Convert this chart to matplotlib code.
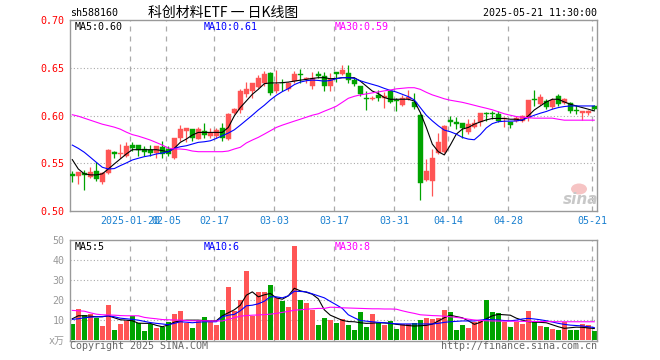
import matplotlib
matplotlib.use("Agg")
import matplotlib.pyplot as plt
from matplotlib.patches import Ellipse
import numpy as np

dates = ["2025-01-06","2025-01-07","2025-01-08","2025-01-09","2025-01-10","2025-01-13","2025-01-14","2025-01-15",
         "2025-01-16","2025-01-17","2025-01-20","2025-01-21","2025-01-22","2025-01-23","2025-01-24","2025-01-27",
         "2025-02-05","2025-02-06","2025-02-07","2025-02-10","2025-02-11","2025-02-12","2025-02-13","2025-02-14",
         "2025-02-17","2025-02-18","2025-02-19","2025-02-20","2025-02-21","2025-02-24","2025-02-25","2025-02-26",
         "2025-02-27","2025-02-28","2025-03-03","2025-03-04","2025-03-05","2025-03-06","2025-03-07","2025-03-10",
         "2025-03-11","2025-03-12","2025-03-13","2025-03-14","2025-03-17","2025-03-18","2025-03-19","2025-03-20",
         "2025-03-21","2025-03-24","2025-03-25","2025-03-26","2025-03-27","2025-03-28","2025-03-31","2025-04-01",
         "2025-04-02","2025-04-03","2025-04-07","2025-04-08","2025-04-09","2025-04-10","2025-04-11","2025-04-14",
         "2025-04-15","2025-04-16","2025-04-17","2025-04-18","2025-04-21","2025-04-22","2025-04-23","2025-04-24",
         "2025-04-25","2025-04-28","2025-04-29","2025-04-30","2025-05-06","2025-05-07","2025-05-08","2025-05-09",
         "2025-05-12","2025-05-13","2025-05-14","2025-05-15","2025-05-16","2025-05-19","2025-05-20","2025-05-21"]

opens = [0.539,0.537,0.5396,0.5354,0.5417,0.5308,0.5396,0.5621,0.5600,0.5573,0.569,0.569,0.5649,0.5642,0.5607,0.5667,
         0.5649,0.5552,0.576,0.584,0.5857,0.5753,0.5833,0.5788,0.5788,0.5865,0.5753,0.6031,0.6058,0.6222,0.6256,0.6302,
         0.6336,0.6441,0.6256,0.6344,0.6274,0.636,0.643,0.6378,0.6308,0.643,0.6412,0.6308,0.6458,0.643,0.6441,0.6371,
         0.6308,0.6188,0.6177,0.6215,0.618,0.6256,0.6163,0.6107,0.617,0.6142,0.6003,0.5329,0.5319,0.5607,0.5621,0.5948,
         0.593,0.5917,0.5823,0.5875,0.5927,0.6024,0.6024,0.6014,0.5961,0.5937,0.5941,0.5944,0.5969,0.617,0.6118,0.6152,
         0.6094,0.6202,0.6135,0.6128,0.6055,0.6024,0.6024,0.6097]
highs = [0.542,0.541,0.543,0.5458,0.551,0.541,0.5645,0.5628,0.570,0.5719,0.5719,0.5695,0.5683,0.569,0.568,0.5735,
         0.5683,0.5765,0.590,0.5871,0.5857,0.5875,0.592,0.5865,0.5865,0.592,0.6031,0.6083,0.6274,0.635,0.634,0.642,
         0.6465,0.6454,0.6472,0.6385,0.6346,0.6465,0.6482,0.6406,0.6454,0.6465,0.6454,0.6448,0.646,0.6534,0.6524,0.6396,
         0.631,0.6256,0.6204,0.6267,0.625,0.6263,0.6188,0.6211,0.6263,0.624,0.6014,0.5545,0.5649,0.5816,0.5899,0.599,
         0.598,0.5925,0.5961,0.5961,0.6028,0.6038,0.6048,0.6045,0.598,0.5937,0.599,0.6003,0.6166,0.6263,0.623,0.617,
         0.618,0.6222,0.618,0.6142,0.6107,0.605,0.6058,0.6115]
lows = [0.530,0.5285,0.5215,0.5347,0.5319,0.5284,0.539,0.5552,0.5552,0.557,0.5631,0.558,0.558,0.558,0.5552,0.5552,
        0.558,0.554,0.5735,0.5725,0.5735,0.575,0.5767,0.576,0.576,0.5735,0.574,0.6014,0.6031,0.6198,0.6188,0.6292,
        0.6308,0.6211,0.6232,0.6256,0.6256,0.6344,0.6344,0.6336,0.6281,0.6396,0.6256,0.6256,0.635,0.6425,0.6344,0.6308,
        0.6204,0.6058,0.6163,0.6152,0.6074,0.6135,0.6048,0.61,0.6163,0.6073,0.511,0.5319,0.5156,0.5597,0.5607,0.5892,
        0.5857,0.5767,0.5805,0.5865,0.5885,0.5944,0.5961,0.5927,0.5875,0.5865,0.5927,0.5927,0.5944,0.61,0.6107,0.6066,
        0.6066,0.61,0.6118,0.6024,0.6014,0.5951,0.6003,0.6055]
closes = [0.537,0.5407,0.5378,0.5406,0.5336,0.5396,0.5642,0.5597,0.5604,0.5677,0.5656,0.5642,0.5615,0.5607,0.5677,0.5597,
          0.5597,0.576,0.5857,0.5865,0.576,0.5857,0.5795,0.5816,0.585,0.576,0.6014,0.6066,0.6256,0.6281,0.6336,0.6396,
          0.643,0.624,0.6326,0.6336,0.6336,0.643,0.642,0.6396,0.6396,0.6412,0.6308,0.6378,0.6438,0.6475,0.6371,0.6326,
          0.6222,0.6177,0.6188,0.618,0.620,0.6142,0.6156,0.6188,0.6198,0.6094,0.5295,0.5423,0.5552,0.5719,0.5885,0.5933,
          0.5906,0.5865,0.5909,0.592,0.6024,0.6014,0.6014,0.5944,0.5975,0.5902,0.5969,0.599,0.6163,0.616,0.6198,0.6094,
          0.6163,0.6118,0.6177,0.6045,0.6045,0.6048,0.6048,0.6069]

ma5 = [0.5538,0.544,0.5389,0.5378,0.5378,0.5389,0.544,0.5493,0.5545,0.5597,0.5642,0.5642,0.5642,0.5642,0.5642,0.5632,
       0.562,0.5656,0.5719,0.5753,0.5795,0.5823,0.5823,0.5823,0.5823,0.5823,0.5875,0.5996,0.6083,0.6152,0.6222,0.6274,
       0.6333,0.6341,0.6341,0.6344,0.635,0.636,0.637,0.6378,0.6388,0.6396,0.6396,0.6385,0.6388,0.6396,0.6396,0.6396,
       0.636,0.6308,0.6256,0.623,0.6188,0.617,0.617,0.617,0.617,0.6152,0.6031,0.5875,0.5701,0.5621,0.5587,0.569,
       0.5805,0.5857,0.5875,0.5909,0.5933,0.5954,0.5969,0.5969,0.5969,0.5961,0.5961,0.5948,0.5996,0.6058,0.61,0.6142,
       0.617,0.617,0.6142,0.6118,0.61,0.6083,0.6066,0.6048]
ma10 = [0.569,0.5656,0.5615,0.5563,0.551,0.5458,0.544,0.5444,0.5475,0.5503,0.5534,0.5552,0.5569,0.558,0.5597,0.5607,
        0.5621,0.5656,0.5673,0.5683,0.5701,0.5719,0.5725,0.5735,0.576,0.5788,0.5816,0.585,0.5899,0.5951,0.6003,0.6058,
        0.6107,0.6163,0.6211,0.625,0.6281,0.6323,0.635,0.6364,0.6371,0.6367,0.636,0.6367,0.6385,0.6396,0.6396,0.6389,
        0.6364,0.6344,0.6326,0.6308,0.6284,0.6263,0.6246,0.6222,0.6198,0.6163,0.6083,0.6003,0.5944,0.5892,0.5847,0.583,
        0.5805,0.5771,0.5753,0.5746,0.580,0.587,0.5915,0.5935,0.5940,0.5941,0.5943,0.5954,0.5979,0.6003,0.6024,0.6042,
        0.6066,0.6083,0.6094,0.61,0.61,0.61,0.61,0.61]
ma30 = [0.6008,0.5993,0.5972,0.5951,0.593,0.5909,0.5894,0.5878,0.5857,0.5826,0.58,0.5784,0.5764,0.5743,0.5717,0.569,
        0.5659,0.5649,0.5649,0.5643,0.5628,0.5621,0.5621,0.5621,0.5621,0.5621,0.5628,0.5649,0.5667,0.5712,0.5743,0.5771,
        0.5805,0.584,0.5875,0.5899,0.592,0.5941,0.5961,0.5982,0.6003,0.6018,0.6045,0.607,0.6097,0.6138,0.618,0.6201,
        0.6216,0.6226,0.6237,0.6247,0.6258,0.6267,0.6279,0.6285,0.6291,0.6291,0.6274,0.6243,0.6216,0.6196,0.6175,0.616,
        0.6149,0.6138,0.6123,0.6107,0.6091,0.6076,0.606,0.6039,0.6018,0.6003,0.5989,0.5982,0.5977,0.5972,0.5972,0.5972,
        0.5972,0.5961,0.5951,0.5951,0.5951,0.5951,0.5951,0.5951]

volume = [7.8,15.3,12.3,12.8,10.7,6.8,17.3,4.8,7.8,9.5,12.0,8.2,4.3,7.8,5.7,6.5,
          9.0,12.8,14.3,8.2,5.7,9.5,11.2,9.0,7.3,14.8,26.3,14.3,19.8,34.3,11.8,23.8,
          24.0,27.3,21.0,19.3,16.3,46.8,19.8,18.2,14.8,7.3,11.0,9.8,8.5,10.2,7.35,4.85,
          13.85,6.5,12.85,8.5,7.35,9.35,5.35,7.85,7.8,8.5,9.85,11.0,10.5,11.0,14.85,13.85,
          4.85,7.35,6.0,8.7,9.85,19.8,13.8,13.2,8.7,6.5,8.7,8.0,14.3,8.7,7.0,6.5,
          5.35,4.85,8.7,4.85,4.85,8.0,7.35,4.5]
vma5 = [10.5,12,12,11.8,11.5,11.5,12,11,10,9.8,9.5,8.3,8.2,8.2,7.2,6.5,
        7.4,8.8,9.5,9.8,9.8,9.8,9.6,9.4,9.5,12,13.5,15,17.3,22.3,24,21.5,
        22.5,23.2,21,20.3,22,25.8,24.5,23.8,22.8,20.5,15,12.3,11,9.7,9.1,9,
        8.5,8.2,8.3,8.5,8.4,8.2,7.7,7.4,7.1,6.85,7,7.2,7.8,9.4,11,12.3,
        11.6,11,9.5,7.7,8.7,10.5,12,12.7,12.5,12.3,10.8,9.8,9.1,8.8,8.7,8.5,
        7.5,6.5,5.7,6,6.3,6.2,5.9,5.6]
vma10 = [10.2,10.5,11,11.3,11.5,11.6,12,11.5,10.8,10.5,10.2,9.8,9.2,8.6,8.2,7.9,
         7.5,8.2,9,8.8,8.5,8.8,9,9,9,11.5,12.3,12.7,14.5,17,17.3,18,
         19.3,21.5,21.5,21,22,24.3,24.2,24,23,22,21,19.2,17.5,15.7,12.5,11,
         9.6,9.3,9,8.7,8.5,8.2,8,7.9,7.9,7.9,7.9,7.9,7.9,8.2,8.7,9,
         9.2,9.4,9.4,9.4,9.8,10.2,10,9.9,9.6,9.5,9.8,10.4,10.7,10.4,10,9.5,
         8.9,8.2,7.7,7.3,7.1,6.9,6.5,6.1]
vma30 = [14.7,14.5,14.3,13.5,12.8,12.5,12.4,12.3,12.1,12,12,12,11.2,10.8,10.5,10.1,
         10,9.9,9.8,9.6,9.5,9.5,9.5,9.4,9.4,9.4,10.2,11,11.8,12.1,12.3,12.4,
         12.6,12.8,13.2,13.7,14.2,14.8,15,15.3,15.5,15.7,15.7,16.3,16.2,16,15.9,15.8,
         15.7,15.6,15.5,15.5,15.4,15.4,15.3,14.5,13.8,13.2,12.5,12.3,12.1,12,11.8,11.5,
         11.2,10.8,10.3,9.9,9.7,9.5,9.4,9.35,9.3,9.3,9.25,9.2,9.2,9.15,9.1,9.1,
         9.05,9.0,9.0,9.0,9.0,9.0,9.0,9.0]

tick_dates = ["2025-01-20","2025-02-05","2025-02-17","2025-03-03","2025-03-17",
              "2025-03-31","2025-04-14","2025-04-28","2025-05-21"]
tick_labels = ["2025-01-20","02-05","02-17","03-03","03-17","03-31","04-14","04-28","05-21"]
price_ticks = [0.50, 0.55, 0.60, 0.65, 0.70]
price_tick_labels = ["0.50", "0.55", "0.60", "0.65", "0.70"]
vol_ticks = [0, 10, 20, 30, 40, 50]
vol_tick_labels = ["x万", "10", "20", "30", "40", "50"]

RED = "#ff5555"
GREEN = "#00a300"
GRID = "#aaaaaa"
MONO = ["DejaVu Sans Mono", "Noto Sans CJK SC"]
FS = 7.2

W, H = 660, 360
fig = plt.figure(figsize=(W / 100, H / 100), dpi=100)
fig.patch.set_facecolor("white")

def px(x, y):
    return x / W, 1 - y / H

ax = fig.add_axes([70 / W, (H - 211) / H, 527 / W, 191 / H])
axv = fig.add_axes([70 / W, 19 / H, 527 / W, 101 / H])

x = np.arange(len(dates))
o = np.array(opens); c = np.array(closes); hi = np.array(highs); lo = np.array(lows)
up = c >= o
colors = np.where(up, RED, GREEN)

xl = (-0.383, -0.383 + 527 / 6)
tick_idx = np.array([dates.index(d) for d in tick_dates]) - 0.3

for a in (ax, axv):
    a.set_xlim(*xl)
    for s in a.spines.values():
        s.set_color("#999999")
        s.set_linewidth(1.0)
    for t in tick_idx:
        a.axvline(t, color=GRID, lw=0.9, ls=(0, (4, 4)), zorder=0)

# price panel
ax.set_ylim(0.50, 0.70)
for yv in price_ticks[1:-1]:
    ax.axhline(yv, color=GRID, lw=0.8, ls=(0, (1, 2)), zorder=0)
ax.vlines(x, lo, hi, colors=colors, lw=0.9, zorder=2)
body_h = np.maximum(np.abs(c - o), 0.0004)
ax.bar(x, body_h, bottom=np.minimum(o, c), width=0.78, color=colors, edgecolor=colors, lw=0.3, zorder=3)
ax.plot(x, ma5, color="black", lw=0.8, zorder=4)
ax.plot(x, ma10, color="#0000ff", lw=0.8, zorder=4)
ax.plot(x, ma30, color="#ff00ff", lw=0.8, zorder=4)
ax.set_yticks(price_ticks)
ax.set_yticklabels(price_tick_labels, color="#ff0000", family=MONO, fontsize=FS)
ax.set_xticks(tick_idx)
ax.set_xticklabels(tick_labels, color="#1a80d0", family=MONO, fontsize=FS)
ax.tick_params(length=0, pad=3.5)
ax.tick_params(axis="y", pad=4)

# volume panel
axv.set_ylim(-0.65, 50)
for yv in vol_ticks[1:-1]:
    axv.axhline(yv, color=GRID, lw=0.8, ls=(0, (1, 2)), zorder=0)
axv.bar(x, volume, width=0.82, color=colors, zorder=2)
axv.plot(x, vma5, color="black", lw=0.8, zorder=4)
axv.plot(x, vma10, color="#0000ff", lw=0.8, zorder=4)
axv.plot(x, vma30, color="#ff00ff", lw=0.8, zorder=4)
axv.set_yticks(vol_ticks)
axv.set_yticklabels(vol_tick_labels, color="#999999", family=MONO, fontsize=FS)
axv.set_xticks([])
axv.tick_params(length=0, pad=4)

# header texts
fig.text(*px(70, 13), "sh588160", family=MONO, fontsize=FS, ha="left", va="center")
fig.text(*px(223, 13), "科创材料ETF 一 日K线图", family=["Noto Sans CJK SC", "DejaVu Sans"],
         fontsize=10, ha="center", va="center")
fig.text(*px(597, 13), "2025-05-21 11:30:00", family=MONO, fontsize=FS, ha="right", va="center")

fig.text(*px(75, 27), "MA5:0.60", family=MONO, fontsize=FS, color="black", va="center")
fig.text(*px(204, 27), "MA10:0.61", family=MONO, fontsize=FS, color="#0000ff", va="center")
fig.text(*px(335, 27), "MA30:0.59", family=MONO, fontsize=FS, color="#ff00ff", va="center")

fig.text(*px(75, 247), "MA5:5", family=MONO, fontsize=FS, color="black", va="center")
fig.text(*px(204, 247), "MA10:6", family=MONO, fontsize=FS, color="#0000ff", va="center")
fig.text(*px(335, 247), "MA30:8", family=MONO, fontsize=FS, color="#ff00ff", va="center")

fig.text(*px(70, 346), "Copyright 2025 SINA.COM", family=MONO, fontsize=FS, color="#666666", va="center")
fig.text(*px(597, 346), "http://finance.sina.com.cn", family=MONO, fontsize=FS, color="#666666",
         ha="right", va="center")

# sina watermark
fig.patches.append(Ellipse(px(579, 189), 16 / W, 11 / H, transform=fig.transFigure,
                           facecolor="#f6c4c4", edgecolor="none", zorder=5))
fig.text(*px(581, 199), "sina", fontsize=11, style="italic", weight="bold", color="#c8c8c8",
         ha="center", va="center", zorder=6)

fig.savefig("out.png", dpi=100)
